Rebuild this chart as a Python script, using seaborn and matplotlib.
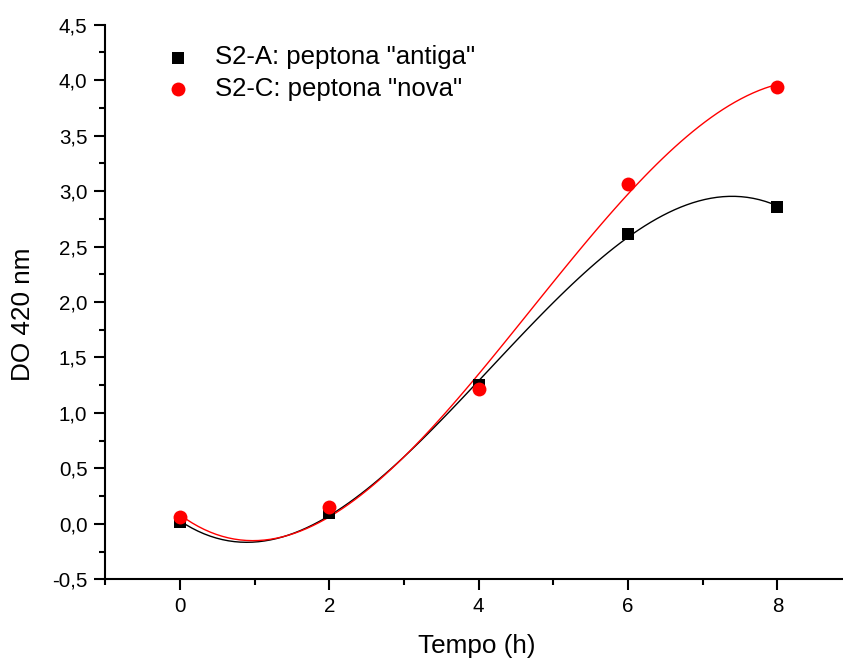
import matplotlib
matplotlib.use("Agg")
import matplotlib.pyplot as plt
from matplotlib.ticker import FixedLocator, FixedFormatter, MultipleLocator
import seaborn as sns
import pandas as pd

# Optical density over time for two peptone batches
tempo = [0, 2, 4, 6, 8]
do_antiga = [0.02, 0.10, 1.25, 2.61, 2.86]
do_nova = [0.06, 0.15, 1.22, 3.06, 3.94]

label_antiga = 'S2-A: peptona "antiga"'
label_nova = 'S2-C: peptona "nova"'

y_ticks = [-0.5, 0.0, 0.5, 1.0, 1.5, 2.0, 2.5, 3.0, 3.5, 4.0, 4.5]
y_tick_labels = ["-0,5", "0,0", "0,5", "1,0", "1,5", "2,0", "2,5", "3,0", "3,5", "4,0", "4,5"]
x_ticks = [0, 2, 4, 6, 8]
x_tick_labels = ["0", "2", "4", "6", "8"]

df_a = pd.DataFrame({"tempo": tempo, "do": do_antiga})
df_c = pd.DataFrame({"tempo": tempo, "do": do_nova})

sns.set_theme(style="ticks")
plt.rcParams["font.family"] = ["Liberation Sans", "DejaVu Sans"]
plt.rcParams["text.color"] = "black"
plt.rcParams["axes.labelcolor"] = "black"
plt.rcParams["xtick.color"] = "black"
plt.rcParams["ytick.color"] = "black"

W, H = 843, 662
fig = plt.figure(figsize=(W / 100, H / 100), dpi=100)
ax_left, ax_right = 105.3, 852.0
ax_top, ax_bottom = 24.7, 579.3
ax = fig.add_axes([ax_left / W, 1 - ax_bottom / H,
                   (ax_right - ax_left) / W, (ax_bottom - ax_top) / H])

# Cubic polynomial fits with the measured points
sns.regplot(data=df_a, x="tempo", y="do", order=3, ci=None, ax=ax,
            marker="s", color="black", label=label_antiga,
            scatter_kws={"s": 74, "linewidths": 0, "alpha": 1, "zorder": 3},
            line_kws={"lw": 1.0, "color": "black", "zorder": 2})
sns.regplot(data=df_c, x="tempo", y="do", order=3, ci=None, ax=ax,
            marker="o", color="#ff0000", label=label_nova,
            scatter_kws={"s": 100, "linewidths": 0, "alpha": 1, "zorder": 4},
            line_kws={"lw": 1.0, "color": "#ff0000", "zorder": 2.5})

ax.set_xlim(-1, 9)
ax.set_ylim(-0.5, 4.5)

ax.yaxis.set_major_locator(FixedLocator(y_ticks))
ax.yaxis.set_major_formatter(FixedFormatter(y_tick_labels))
ax.yaxis.set_minor_locator(MultipleLocator(0.25))
ax.xaxis.set_major_locator(FixedLocator(x_ticks))
ax.xaxis.set_major_formatter(FixedFormatter(x_tick_labels))
ax.xaxis.set_minor_locator(MultipleLocator(1))

for side in ["top", "right"]:
    ax.spines[side].set_visible(False)
for side in ["left", "bottom"]:
    ax.spines[side].set_linewidth(1.5)
    ax.spines[side].set_color("black")

ax.tick_params(which="major", direction="out", length=7.9, width=1.5,
               labelsize=14.8, colors="black", pad=5)
ax.tick_params(which="minor", direction="out", length=4.6, width=1.5, colors="black")

ax.set_xlabel("Tempo (h)", fontsize=18.8, color="black")
ax.set_ylabel("DO 420 nm", fontsize=18.8, color="black")
ax.xaxis.set_label_coords((477 - ax_left) / (ax_right - ax_left),
                          -(634 - ax_bottom) / (ax_bottom - ax_top))
ax.yaxis.set_label_coords(-(ax_left - 35) / (ax_right - ax_left),
                          (ax_bottom - 314) / (ax_bottom - ax_top))

leg = ax.legend(loc="upper left", bbox_to_anchor=(152.3 / W, 1 - 35 / H),
                bbox_transform=fig.transFigure, frameon=False, fontsize=18.5,
                handlelength=1.2, handletextpad=0.84, labelspacing=0.3,
                borderaxespad=0, scatterpoints=1, labelcolor="black")

ax.set_facecolor("white")
fig.patch.set_facecolor("white")
fig.savefig("out.png", dpi=100)
